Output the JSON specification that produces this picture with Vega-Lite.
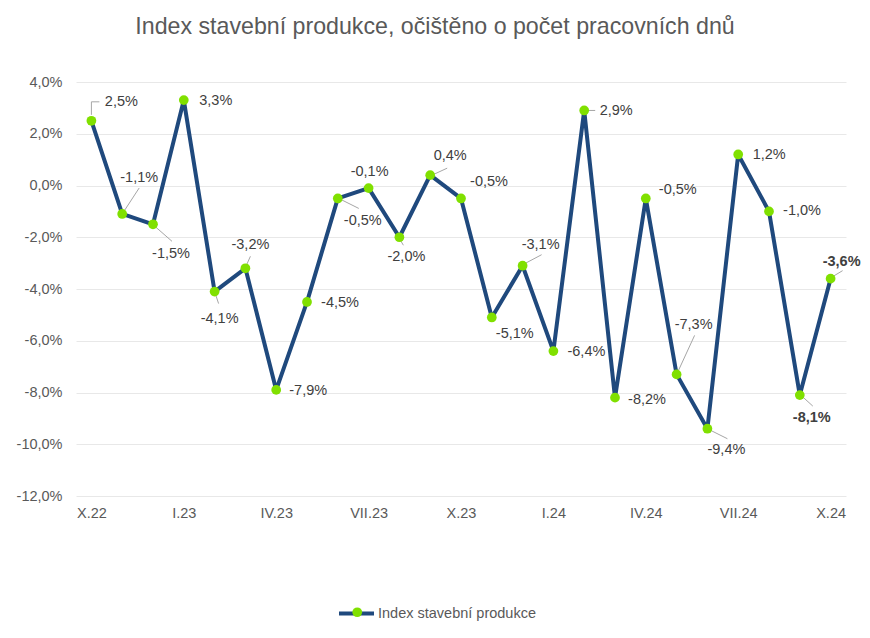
{
  "$schema": "https://vega.github.io/schema/vega-lite/v6.json",
  "autosize": "none",
  "width": 770,
  "height": 414,
  "padding": {"left": 76, "top": 82, "right": 24, "bottom": 142},
  "background": "white",
  "title": {
    "text": "Index stavební produkce, očištěno o počet pracovních dnů",
    "font": "Liberation Sans",
    "fontSize": 23.2,
    "fontWeight": "normal",
    "color": "#595959",
    "anchor": "middle",
    "frame": "group",
    "baseline": "alphabetic",
    "dx": -26,
    "offset": 17
  },
  "params": [
    {"name": "mo", "value": ["X.22","XI.22","XII.22","I.23","II.23","III.23","IV.23","V.23","VI.23","VII.23","VIII.23","IX.23","X.23","XI.23","XII.23","I.24","II.24","III.24","IV.24","V.24","VI.24","VII.24","VIII.24","IX.24","X.24"]},
    {"name": "tdx", "value": [30,17,18,32,5,5,32,33,25,1,7,20,28,23,18,33,32,32,32,17,19,31,33,12,11]},
    {"name": "tdy", "value": [-19,-36,30,1,27,-23,1,1,23,-16,20,-19,-16,17,-21,1,1,2,-8,-49,21,1,0,23,-17]},
    {"name": "lx1", "value": [0,2,3,0,1,1,0,0,3,0,1,4,0,0,2,0,3,0,0,1,2,0,0,2,2]},
    {"name": "ly1", "value": [-6,-3,3,0,3,-3,0,0,1,0,3,-1,0,0,-2,0,0,0,0,-2,1,0,0,1,-2]},
    {"name": "lx2", "value": [0,17,19,0,4,5,0,0,21,0,4,17,0,0,19,0,11,0,0,18,20,0,0,13,12]},
    {"name": "ly2", "value": [-19,-26,17,0,12,-12,0,0,10,0,8,-7,0,0,-11,0,0,0,0,-39,10,0,0,11,-8]}
  ],
  "data": {
    "values": [
      {"m": "X.22", "v": 0.025},
      {"m": "XI.22", "v": -0.011},
      {"m": "XII.22", "v": -0.015},
      {"m": "I.23", "v": 0.033},
      {"m": "II.23", "v": -0.041},
      {"m": "III.23", "v": -0.032},
      {"m": "IV.23", "v": -0.079},
      {"m": "V.23", "v": -0.045},
      {"m": "VI.23", "v": -0.005},
      {"m": "VII.23", "v": -0.001},
      {"m": "VIII.23", "v": -0.020},
      {"m": "IX.23", "v": 0.004},
      {"m": "X.23", "v": -0.005},
      {"m": "XI.23", "v": -0.051},
      {"m": "XII.23", "v": -0.031},
      {"m": "I.24", "v": -0.064},
      {"m": "II.24", "v": 0.029},
      {"m": "III.24", "v": -0.082},
      {"m": "IV.24", "v": -0.005},
      {"m": "V.24", "v": -0.073},
      {"m": "VI.24", "v": -0.094},
      {"m": "VII.24", "v": 0.012},
      {"m": "VIII.24", "v": -0.010},
      {"m": "IX.24", "v": -0.081},
      {"m": "X.24", "v": -0.036}
    ]
  },
  "encoding": {
    "x": {
      "field": "m",
      "type": "ordinal",
      "scale": {
        "type": "point",
        "padding": 0.5,
        "domain": ["X.22","XI.22","XII.22","I.23","II.23","III.23","IV.23","V.23","VI.23","VII.23","VIII.23","IX.23","X.23","XI.23","XII.23","I.24","II.24","III.24","IV.24","V.24","VI.24","VII.24","VIII.24","IX.24","X.24"]
      },
      "axis": {
        "title": null,
        "values": ["X.22","I.23","IV.23","VII.23","X.23","I.24","IV.24","VII.24","X.24"],
        "labelAngle": 0,
        "ticks": false,
        "domain": false,
        "grid": false,
        "labelPadding": 10,
        "labelFont": "Liberation Sans",
        "labelFontSize": 14.5,
        "labelColor": "#595959"
      }
    },
    "y": {
      "field": "v",
      "type": "quantitative",
      "scale": {"domain": [-0.12, 0.04], "nice": false, "zero": false},
      "axis": {
        "title": null,
        "values": [-0.12, -0.10, -0.08, -0.06, -0.04, -0.02, 0, 0.02, 0.04],
        "format": ".1%",
        "ticks": false,
        "domain": false,
        "grid": true,
        "gridColor": "#E8E8E8",
        "gridWidth": 1,
        "labelPadding": 14,
        "labelFont": "Liberation Sans",
        "labelFontSize": 14.5,
        "labelColor": "#595959"
      }
    }
  },
  "layer": [
    {
      "transform": [{"filter": "lx2[indexof(mo, datum.m)] != 0 || ly2[indexof(mo, datum.m)] != 0"}],
      "mark": {
        "type": "rule",
        "color": "#A6A6A6",
        "strokeWidth": 1,
        "xOffset": {"expr": "lx1[indexof(mo, datum.m)]"},
        "yOffset": {"expr": "ly1[indexof(mo, datum.m)]"},
        "x2Offset": {"expr": "lx2[indexof(mo, datum.m)]"},
        "y2Offset": {"expr": "ly2[indexof(mo, datum.m)]"}
      },
      "encoding": {
        "x2": {"field": "m"},
        "y2": {"field": "v"}
      }
    },
    {
      "transform": [{"filter": "datum.m == 'X.22'"}],
      "mark": {
        "type": "rule",
        "color": "#A6A6A6",
        "strokeWidth": 1,
        "xOffset": 0,
        "yOffset": -19,
        "x2Offset": 8,
        "y2Offset": -19
      },
      "encoding": {
        "x2": {"field": "m"},
        "y2": {"field": "v"}
      }
    },
    {
      "mark": {"type": "line", "strokeWidth": 4, "strokeJoin": "round"},
      "encoding": {
        "stroke": {
          "datum": "Index stavební produkce",
          "scale": {"range": ["#1F497D"]},
          "legend": {
            "orient": "none",
            "legendX": 261,
            "legendY": 512,
            "title": null,
            "symbolType": "stroke",
            "symbolSize": 1225,
            "symbolStrokeWidth": 4,
            "labelOffset": 2,
            "labelFont": "Liberation Sans",
            "labelFontSize": 14.5,
            "labelColor": "#595959",
            "padding": 0
          }
        }
      }
    },
    {
      "mark": {"type": "point", "filled": true, "size": 95, "opacity": 1},
      "encoding": {
        "fill": {
          "datum": "body",
          "scale": {"range": ["#80E000"]},
          "legend": {
            "orient": "none",
            "legendX": 274,
            "legendY": 523,
            "title": null,
            "symbolType": "circle",
            "symbolSize": 95,
            "symbolStrokeWidth": 0,
            "symbolOpacity": 1,
            "labelExpr": "''",
            "labelFont": "Liberation Sans",
            "labelFontSize": 14.5,
            "padding": 0
          }
        }
      }
    },
    {
      "mark": {
        "type": "text",
        "align": "center",
        "baseline": "middle",
        "font": "Liberation Sans",
        "fontSize": 14.5,
        "color": "#404040",
        "dx": {"expr": "tdx[indexof(mo, datum.m)]"},
        "dy": {"expr": "tdy[indexof(mo, datum.m)]"},
        "fontWeight": {"expr": "indexof(mo, datum.m) >= 23 ? 'bold' : 'normal'"}
      },
      "encoding": {
        "text": {"field": "v", "type": "quantitative", "format": ".1%"}
      }
    }
  ],
  "config": {
    "locale": {
      "number": {
        "decimal": ",",
        "thousands": " ",
        "grouping": [3],
        "currency": ["", " Kč"],
        "minus": "-",
        "percent": "%"
      }
    },
    "view": {"stroke": null},
    "legend": {"padding": 0}
  }
}
